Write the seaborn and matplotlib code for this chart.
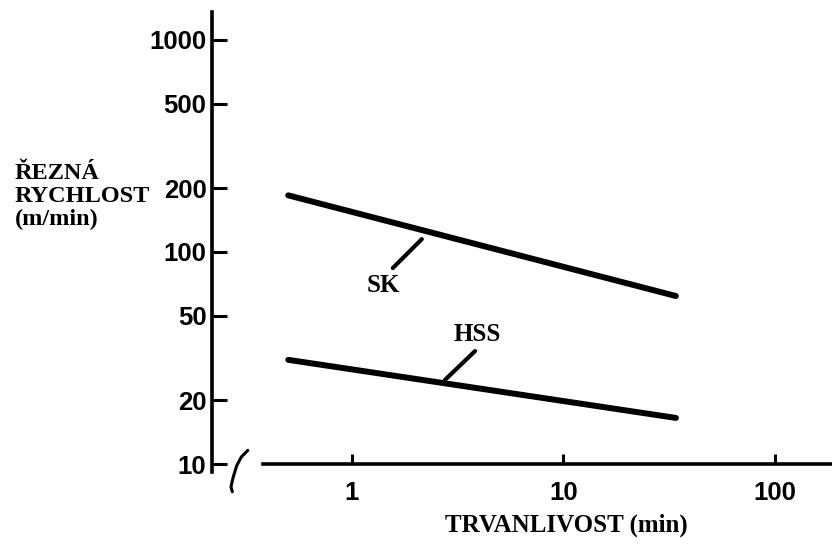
import numpy as np
import pandas as pd
import matplotlib
matplotlib.use("Agg")
import matplotlib.pyplot as plt
import seaborn as sns

# data
trvanlivost = [0.5, 34]          # min
sk_rychlost = [185, 62]          # m/min
hss_rychlost = [31, 16.5]        # m/min
y_ticks = [10, 20, 50, 100, 200, 500, 1000]
x_ticks = [1, 10, 100]

sns.set_style("white")
plt.rcParams['font.family'] = ['Liberation Sans', 'DejaVu Sans']
plt.rcParams['text.color'] = 'black'
plt.rcParams['xtick.color'] = 'black'
plt.rcParams['ytick.color'] = 'black'

fig = plt.figure(figsize=(8.32, 5.47), dpi=100)
ax = fig.add_axes([212/832, 75/547, 620/832, 460/547])

df = pd.DataFrame({'t': trvanlivost * 2,
                   'v': sk_rychlost + hss_rychlost,
                   'nastroj': ['SK'] * 2 + ['HSS'] * 2})
sns.lineplot(data=df, x='t', y='v', units='nastroj', estimator=None,
             color='black', linewidth=4.3, solid_capstyle='round', ax=ax)

ax.set_xscale('log')
ax.set_yscale('log')
ax.set_xlim(0.218, 186)
ax.set_ylim(9.17, 1355)

for s in ['top', 'right']:
    ax.spines[s].set_visible(False)
ax.spines['left'].set_linewidth(2.6)
ax.spines['left'].set_color('black')
ax.spines['bottom'].set_linewidth(2.6)
ax.spines['bottom'].set_color('black')
ax.spines['bottom'].set_position(('data', 10))
ax.spines['bottom'].set_bounds(0.38, 186)

ax.minorticks_off()
ax.set_yticks(y_ticks)
ax.set_yticklabels([str(v) for v in y_ticks], fontweight='bold')
ax.set_xticks(x_ticks)
ax.set_xticklabels([str(v) for v in x_ticks], fontweight='bold')
ax.tick_params(axis='y', direction='in', length=11, width=2.2, pad=4,
               labelsize=18.5, color='black', labelcolor='black', left=True)
ax.tick_params(axis='x', direction='in', length=7, width=2.2, pad=12,
               labelsize=18.5, color='black', labelcolor='black', bottom=True)

# break mark on the x axis
ax.plot([0.322, 0.30, 0.285, 0.274, 0.268, 0.272], [11.6, 10.8, 9.8, 8.6, 7.8, 7.4],
        color='black', linewidth=2.2, clip_on=False)

serif = ['Liberation Serif', 'DejaVu Serif']
ax.set_xlabel('')
ax.set_ylabel('')
ax.text(1.40, 69.8, 'SK', family=serif, fontweight='bold', fontsize=18,
        ha='center', va='center')
ax.plot([2.14, 1.56], [115, 84], color='black', linewidth=3)
ax.text(3.90, 41, 'HSS', family=serif, fontweight='bold', fontsize=18,
        ha='center', va='center')
ax.plot([3.82, 2.75], [34.1, 24.9], color='black', linewidth=3)

fig.text(566/832, 1 - 525/547, 'TRVANLIVOST (min)', family=serif,
         fontweight='bold', fontsize=18, ha='center', va='center')
fig.text(15/832, 1 - 197/547, 'ŘEZNÁ\nRYCHLOST\n(m/min)', family=serif,
         fontweight='bold', fontsize=17.5, ha='left', va='center', linespacing=1.12)

fig.savefig('out.png', dpi=100)
